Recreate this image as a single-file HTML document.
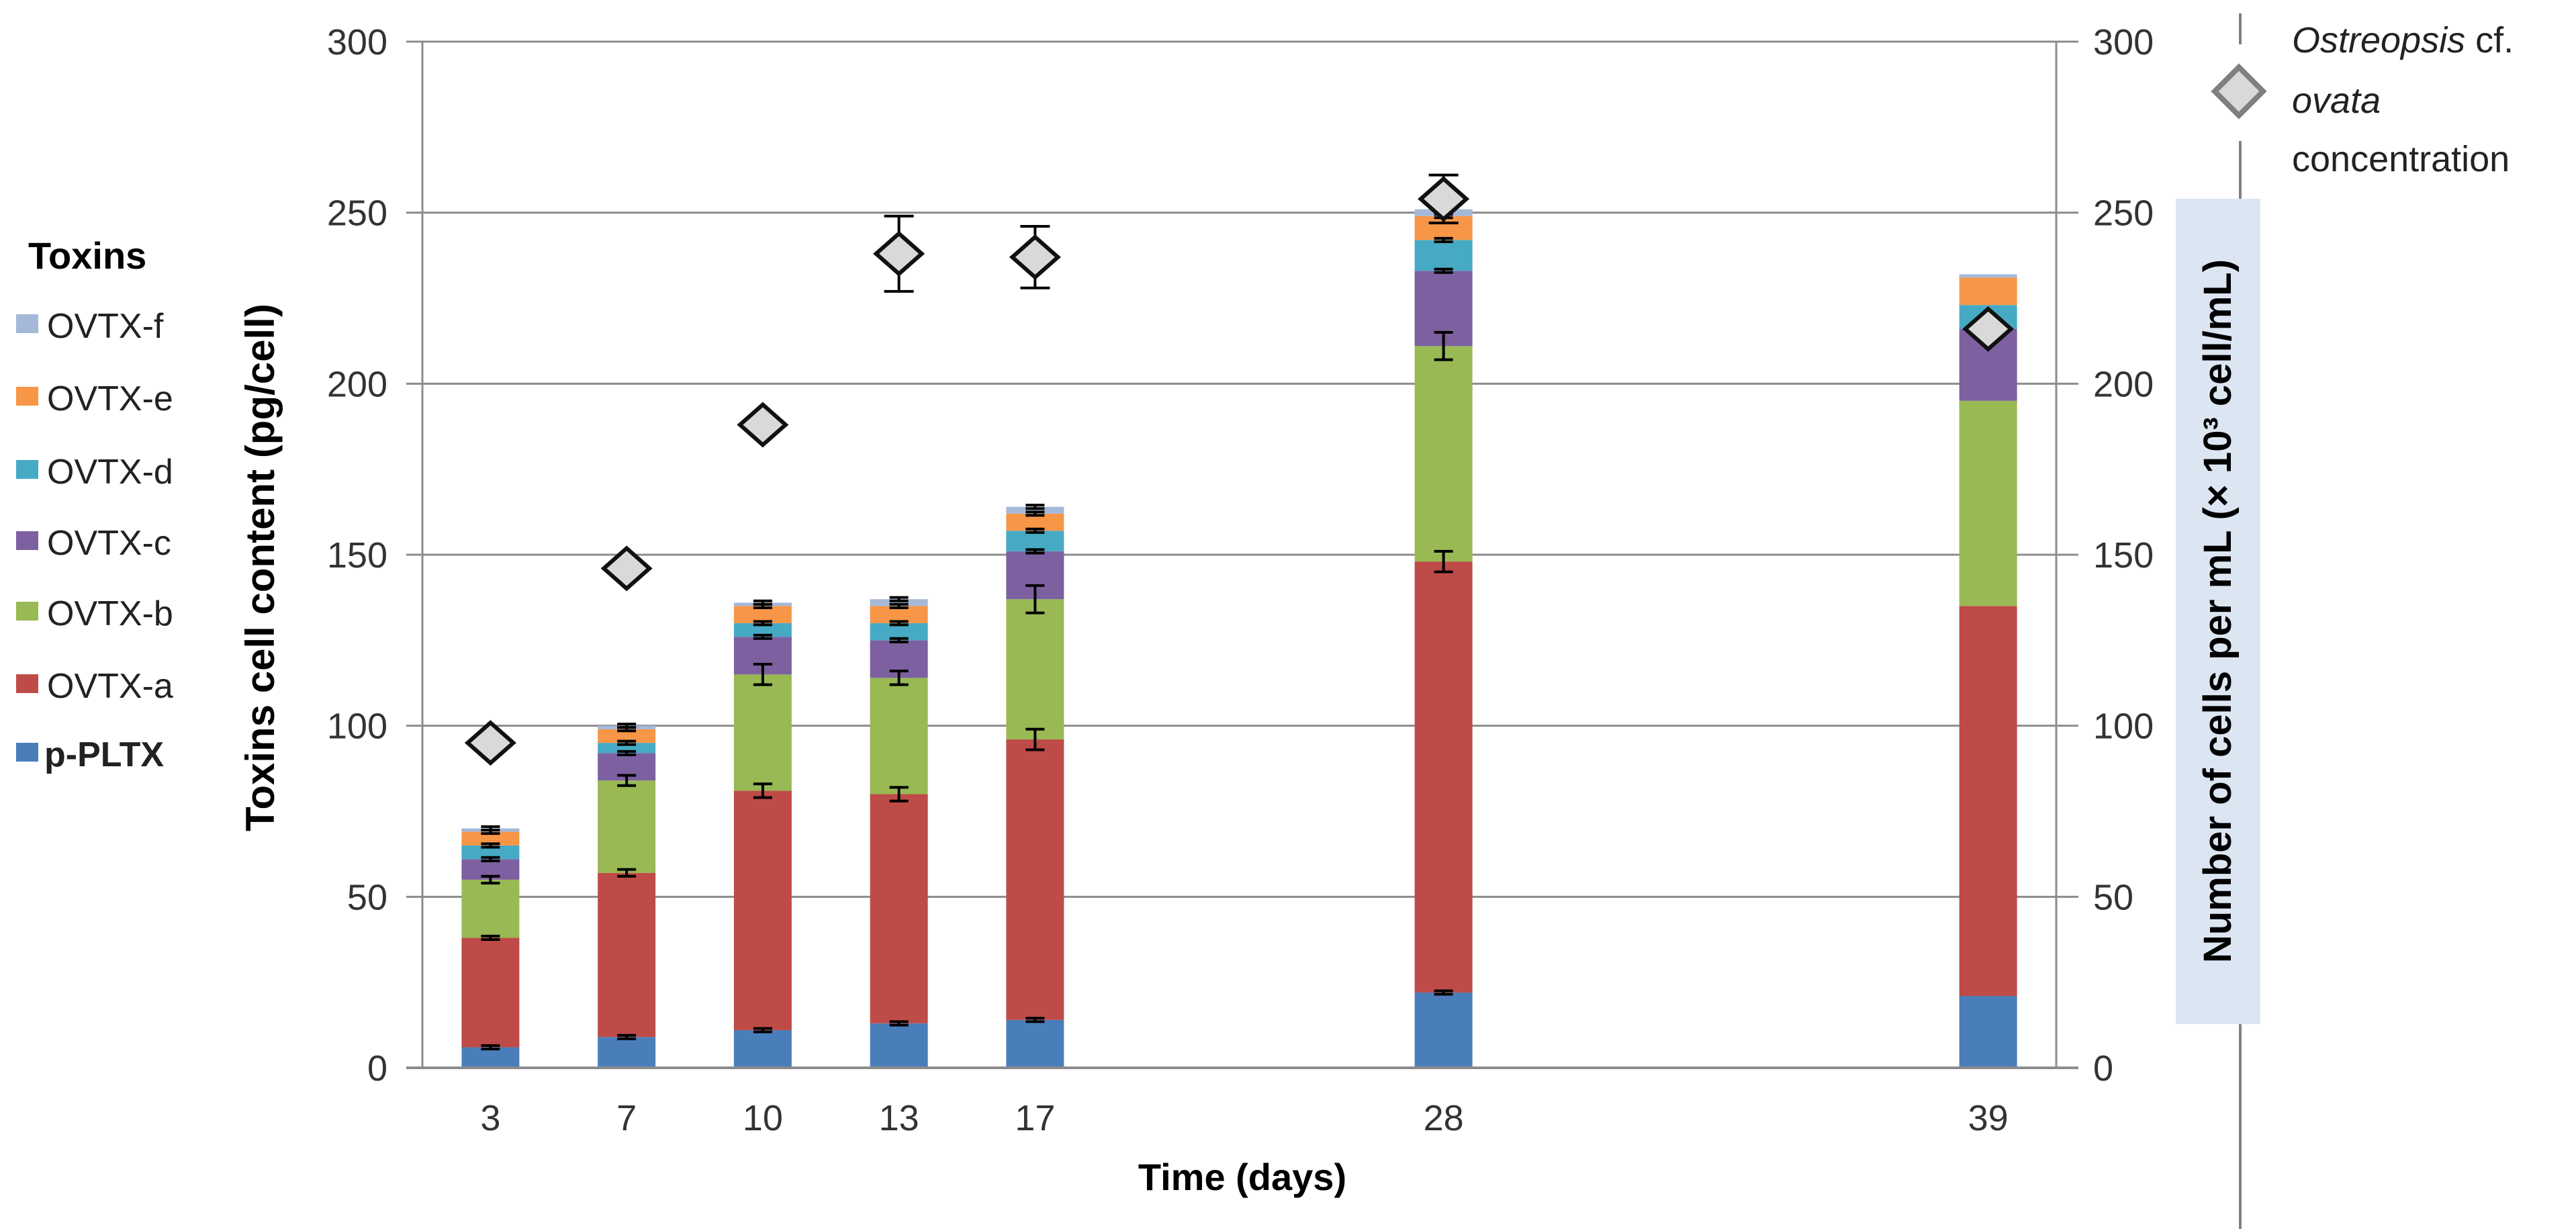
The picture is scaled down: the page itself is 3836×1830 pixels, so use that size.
<!DOCTYPE html>
<html><head><meta charset="utf-8"><style>
html,body{margin:0;padding:0;background:#fff;}
svg{display:block;font-family:"Liberation Sans",sans-serif;}
</style></head><body>
<svg id="chart" width="3836" height="1830" viewBox="0 0 3836 1830" xmlns="http://www.w3.org/2000/svg">
<g id="grid"></g>
<g id="bars"></g>
<g id="pts"></g>
<g id="axes"></g>
<text transform="translate(408,845) rotate(-90)" text-anchor="middle" font-size="60" font-weight="bold" font-family="'Liberation Sans Narrow','Liberation Sans',sans-serif" fill="#000">Toxins cell content (pg/cell)</text>
<text x="1850" y="1772" text-anchor="middle" font-size="56" font-weight="bold" font-family="'Liberation Sans Narrow','Liberation Sans',sans-serif">Time (days)</text>
<line x1="3336" y1="20" x2="3336" y2="66" stroke="#808080" stroke-width="4"/>
<line x1="3336" y1="210" x2="3336" y2="300" stroke="#808080" stroke-width="4"/>
<line x1="3336" y1="1525" x2="3336" y2="1830" stroke="#808080" stroke-width="4"/>
<rect x="3240" y="296" width="126" height="1229" fill="#dce6f2"/>
<text transform="translate(3322,910) rotate(-90)" text-anchor="middle" font-size="58" font-weight="bold" font-family="'Liberation Sans Narrow','Liberation Sans',sans-serif">Number of cells per mL (× 10³ cell/mL)</text>
<polygon points="3334,100 3370,136 3334,172 3298,136" fill="#d9d9d9" stroke="#7f7f7f" stroke-width="8"/>
<g font-size="54" fill="#222">
<text x="3413" y="78"><tspan font-style="italic">Ostreopsis</tspan> cf.</text>
<text x="3413" y="168" font-style="italic">ovata</text>
<text x="3413" y="255">concentration</text>
</g>
<text x="42" y="400" font-size="56" font-weight="bold">Toxins</text>
<g id="legend"></g>
<script>
const days = ["3","7","10","13","17","28","39"];
const slots = [0,1,2,3,4,7,11];
const seriesNames = ["p-PLTX","OVTX-a","OVTX-b","OVTX-c","OVTX-d","OVTX-e","OVTX-f"];
const seriesColors = ["#4a7ebb","#be4b48","#98b954","#7d60a0","#46aac5","#f79646","#a5b8d8"];
const pPLTX = [6,9,11,13,14,22,21];
const ovtxA = [32,48,70,67,82,126,114];
const ovtxB = [17,27,34,34,41,63,60];
const ovtxC = [6,8,11,11,14,22,21];
const ovtxD = [4,3,4,5,6,9,7];
const ovtxE = [4,4,5,5,5,7,8];
const ovtxF = [1,1,1,2,2,2,1];
const errA = [0.5,1,2,2,3,3,0];
const errB = [1,1.5,3,2,4,4,0];
const errOther = [0.5,0.5,0.5,0.5,0.5,0.5,0];
const cellConc = [95,146,188,238,237,254,216];
const cellErr = [0,0,0,11,9,7,0];
const yTicks = [0,50,100,150,200,250,300];

const NS="http://www.w3.org/2000/svg";
const X0=629, X1=3062, Y0=1590, YTOP=62, YMAX=300;
const slotW=(X1-X0)/12;
function xc(i){return X0+(slots[i]+0.5)*slotW;}
function y(v){return Y0-(v/YMAX)*(Y0-YTOP);}
function el(tag,attrs,parent){const e=document.createElementNS(NS,tag);for(const k in attrs)e.setAttribute(k,attrs[k]);parent.appendChild(e);return e;}
const grid=document.getElementById('grid'),bars=document.getElementById('bars'),pts=document.getElementById('pts'),axes=document.getElementById('axes'),legend=document.getElementById('legend');
yTicks.forEach(t=>{
  if(t>0){const g=el('line',{x1:X0,x2:X1,y1:y(t),y2:y(t),stroke:'#8c8c8c','stroke-width':3},grid);
  
  }
  const l=el('text',{x:X0-52,y:y(t)+19,'text-anchor':'end','font-size':54,fill:'#333'},axes);l.textContent=t;
  
  
  const r=el('text',{x:X1+55,y:y(t)+19,'font-size':54,fill:'#333'},axes);r.textContent=t;
  
  
  el('line',{x1:X0-24,x2:X0,y1:y(t),y2:y(t),stroke:'#8c8c8c','stroke-width':3},axes);
  el('line',{x1:X1,x2:X1+33,y1:y(t),y2:y(t),stroke:'#8c8c8c','stroke-width':3},axes);
});
const la=el('line',{x1:X0,x2:X0,y1:YTOP,y2:Y0,stroke:'#8c8c8c','stroke-width':3},axes);


const ra=el('line',{x1:X1,x2:X1,y1:YTOP,y2:Y0,stroke:'#8c8c8c','stroke-width':3},axes);


const xa=el('line',{x1:X0-24,x2:X1+33,y1:Y0,y2:Y0,stroke:'#8c8c8c','stroke-width':4},axes);


const series=[pPLTX,ovtxA,ovtxB,ovtxC,ovtxD,ovtxE,ovtxF];
const errs=[errOther,errA,errB,errOther,errOther,errOther,errOther];
const BW=86;
days.forEach((d,i)=>{
  const cx=xc(i);
  let base=0;
  series.forEach((s,k)=>{
    const top=base+s[i];
    const r=el('rect',{x:cx-BW/2,y:y(top),width:BW,height:y(base)-y(top),fill:seriesColors[k]},bars);
    
    
    base=top;
  });
  base=0;
  series.forEach((s,k)=>{
    const top=base+s[i]; const e=errs[k][i];
    if(e>0){
      const h=Math.max(y(top-e)-y(top+e),5);
      const g=el('g',{stroke:'#000','stroke-width':4},bars);
      
      
      el('line',{x1:cx,x2:cx,y1:y(top)-h/2,y2:y(top)+h/2},g);
      el('line',{x1:cx-14,x2:cx+14,y1:y(top)-h/2,y2:y(top)-h/2},g);
      el('line',{x1:cx-14,x2:cx+14,y1:y(top)+h/2,y2:y(top)+h/2},g);
    }
    base=top;
  });
  const lbl=el('text',{x:cx,y:1683,'text-anchor':'middle','font-size':54,fill:'#333'},axes);lbl.textContent=d;
  
  
  const cy=y(cellConc[i]);
  if(cellErr[i]>0){
    const g=el('g',{stroke:'#000','stroke-width':4},pts);
    
    
    const a=y(cellConc[i]+cellErr[i]),b=y(cellConc[i]-cellErr[i]);
    el('line',{x1:cx,x2:cx,y1:a,y2:b},g);
    el('line',{x1:cx-22,x2:cx+22,y1:a,y2:a},g);
    el('line',{x1:cx-22,x2:cx+22,y1:b,y2:b},g);
  }
  const p=el('polygon',{points:`${cx},${cy-30} ${cx+34},${cy} ${cx},${cy+30} ${cx-34},${cy}`,fill:'#d9d9d9',stroke:'#111','stroke-width':6},pts);
  
  
});
const legY=[485,593,702,808,913,1021,1123];
for(let k=6;k>=0;k--){
  const idx=6-k;
  const g=el('g',{},legend);
  
  
  el('rect',{x:24,y:legY[idx]-17,width:33,height:28,fill:seriesColors[k]},g);
  const t=el('text',{x:k===0?66:70,y:legY[idx]+18,'font-size':52,fill:'#222','font-weight':k===0?'bold':'normal'},g);
  t.textContent=seriesNames[k];
}
</script>
</svg>
</body></html>
